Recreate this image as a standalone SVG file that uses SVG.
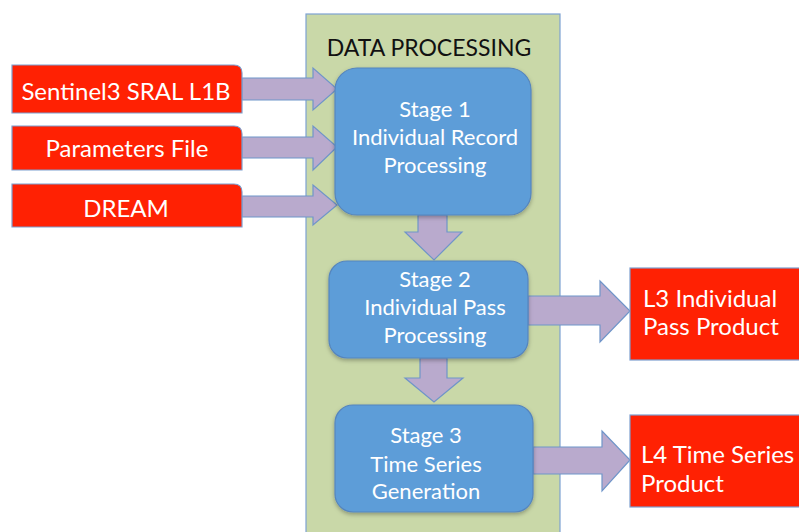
<svg xmlns="http://www.w3.org/2000/svg" width="799" height="532" viewBox="0 0 799 532">
<defs>
<style>
.in{fill:#ff2103;stroke:#7d9fcf;stroke-width:1.2}
.stage{fill:#5d9dd8;stroke:#5585be;stroke-width:1.2;filter:url(#sh)}
.arr{fill:#b9aacd;stroke:#6f95c9;stroke-width:1.2}
.t{font-family:Lato,"Open Sans",sans-serif;fill:#fff}
.ti{font-size:24px;text-anchor:middle}
.ts{font-size:22px;text-anchor:middle}
.to{font-size:24px}
</style>
<filter id="sh" x="-10%" y="-10%" width="120%" height="130%">
<feDropShadow dx="0" dy="2" stdDeviation="2" flood-color="#000" flood-opacity="0.3"/>
</filter>
</defs>
<rect width="799" height="532" fill="#fff"/>
<g id="container">
<rect x="306" y="14" width="254" height="530" fill="#c9d8a8" stroke="#7ea2d2" stroke-width="1.2"/>
<text x="429" y="56" font-family="Lato,'Open Sans',sans-serif" font-size="23" fill="#111" text-anchor="middle">DATA PROCESSING</text>
</g>
<g id="connectors">
<path class="arr" d="M242,78 H313 V68 L337,89 L313,110 V100 H242 Z"/>
<path class="arr" d="M242,137 H313 V126 L337,147 L313,170 V158 H242 Z"/>
<path class="arr" d="M242,196 H313 V185 L337,205 L313,225 V217 H242 Z"/>
<path class="arr" d="M418,215 H447 V232 H462 L434,260 L405,232 H418 Z"/>
<path class="arr" d="M420,358 H447 V378 H463 L434,402 L405,378 H420 Z"/>
<path class="arr" d="M528,296 H600 V281 L630,311 L600,342 V325 H528 Z"/>
<path class="arr" d="M533,447 H602 V431 L630,460 L602,491 V474 H533 Z"/>
</g>
<g id="in1">
<path class="in" d="M12,65 H234 Q242,65 242,73 V113 H12 Z"/>
<text class="t ti" x="126" y="100">Sentinel3 SRAL L1B</text>
</g>
<g id="in2">
<path class="in" d="M12,126 H234 Q242,126 242,134 V170 H12 Z"/>
<text class="t ti" x="127" y="157">Parameters File</text>
</g>
<g id="in3">
<path class="in" d="M12,184 H234 Q242,184 242,192 V227 H12 Z"/>
<text class="t ti" x="126" y="217">DREAM</text>
</g>
<g id="stage1">
<rect class="stage" x="335" y="68" width="196" height="147" rx="22"/>
<text class="t ts" x="435" y="117">Stage 1</text>
<text class="t ts" x="435" y="145">Individual Record</text>
<text class="t ts" x="435" y="173">Processing</text>
</g>
<g id="stage2">
<rect class="stage" x="329" y="261" width="199" height="97" rx="18"/>
<text class="t ts" x="435" y="287">Stage 2</text>
<text class="t ts" x="435" y="315">Individual Pass</text>
<text class="t ts" x="435" y="343">Processing</text>
</g>
<g id="stage3">
<rect class="stage" x="335" y="405" width="198" height="107" rx="18"/>
<text class="t ts" x="426" y="443">Stage 3</text>
<text class="t ts" x="426" y="472">Time Series</text>
<text class="t ts" x="426" y="499">Generation</text>
</g>
<g id="out1">
<rect class="in" x="630" y="268" width="180" height="92"/>
<text class="t to" x="643" y="307">L3 Individual</text>
<text class="t to" x="643" y="335">Pass Product</text>
</g>
<g id="out2">
<rect class="in" x="630" y="415" width="180" height="92"/>
<text class="t to" x="641" y="463">L4 Time Series</text>
<text class="t to" x="641" y="492">Product</text>
</g>
</svg>
